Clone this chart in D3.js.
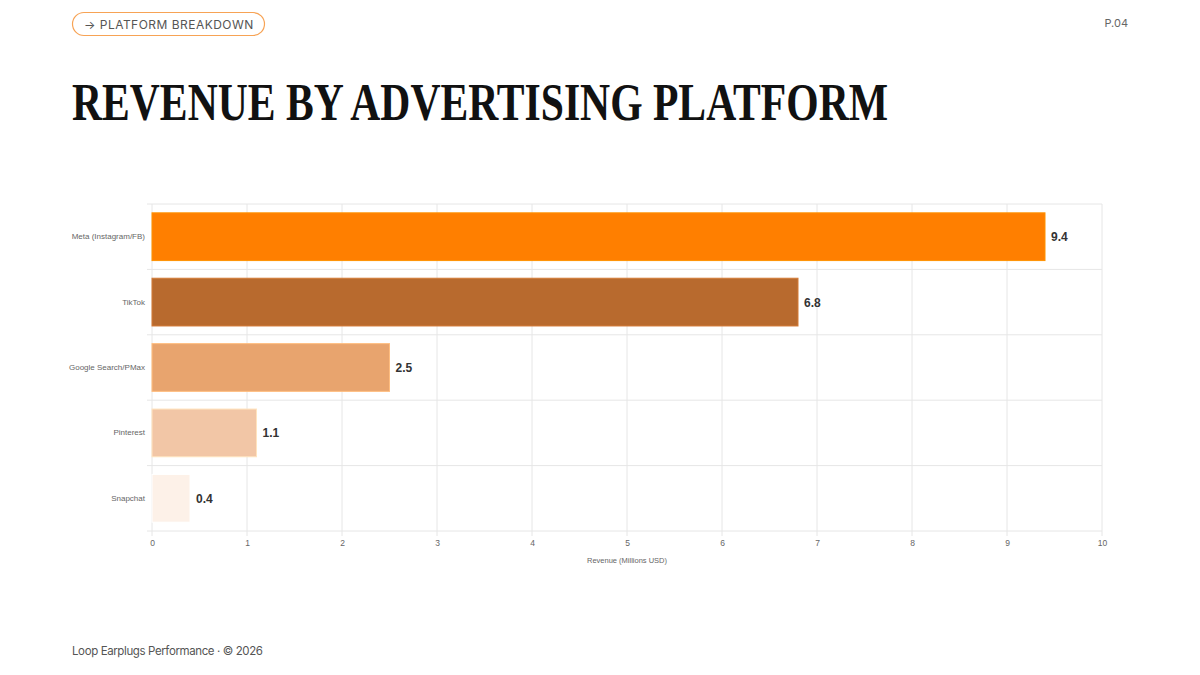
<!DOCTYPE html>
<html>
<head>
<meta charset="utf-8">
<script src="https://cdn.jsdelivr.net/npm/d3@7"></script>
<style>
  html, body { margin: 0; padding: 0; background: #fff; }
  svg { display: block; }
</style>
</head>
<body>
<div id="chart"></div>
<script>
  // platform revenue, millions USD
  var platforms = ['Meta (Instagram/FB)', 'TikTok', 'Google Search/PMax', 'Pinterest', 'Snapchat'];
  var revenue = [9.4, 6.8, 2.5, 1.1, 0.4];
  var barColors = ['#ff7f00', '#b86a2e', '#e8a46e', '#f2c6a6', '#fdf1e8'];
  var xTicks = [0, 1, 2, 3, 4, 5, 6, 7, 8, 9, 10];

  var width = 1200;
  var height = 675;
  var margin = {
    top: 204,
    right: 98,
    bottom: 144,
    left: 152
  };

  var svg = d3.select('#chart').append('svg')
      .attr('width', width)
      .attr('height', height);

  // header pill
  svg.append('rect')
      .attr('x', 72.5).attr('y', 12.5)
      .attr('width', 192).attr('height', 23)
      .attr('rx', 11.5)
      .attr('fill', 'none')
      .attr('stroke', '#f7a355')
      .attr('stroke-width', 1.2);
  svg.append('text')
      .attr('x', 84).attr('y', 28.5)
      .attr('font-family', 'Inter, sans-serif')
      .attr('font-size', 12)
      .attr('letter-spacing', 0.7)
      .attr('textLength', 170)
      .attr('fill', '#555')
      .text('\u2192 PLATFORM BREAKDOWN');

  svg.append('text')
      .attr('x', 1128).attr('y', 27)
      .attr('text-anchor', 'end')
      .attr('font-family', 'Inter, sans-serif')
      .attr('font-size', 11)
      .attr('fill', '#666')
      .text('P.04');

  svg.append('text')
      .attr('x', 72).attr('y', 120)
      .attr('font-family', '"Liberation Serif", serif')
      .attr('font-weight', 'bold')
      .attr('font-size', 53)
      .attr('textLength', 816)
      .attr('lengthAdjust', 'spacingAndGlyphs')
      .attr('fill', '#111')
      .text('REVENUE BY ADVERTISING PLATFORM');

  svg.append('text')
      .attr('x', 72).attr('y', 655)
      .attr('font-family', 'Inter, sans-serif')
      .attr('font-size', 11.5)
      .attr('textLength', 191)
      .attr('fill', '#555')
      .text('Loop Earplugs Performance \u00b7 \u00a9 2026');

  var xScale = d3.scaleLinear().domain([0, 10]).range([margin.left, width - margin.right]);
  var yScale = d3.scaleBand().domain(platforms)
      .range([margin.top, height - margin.bottom])
      .paddingInner(0.27).paddingOuter(0.135);

  var plotBottom = height - margin.bottom;
  var bandStep = yScale.step();
  var boundaries = d3.range(platforms.length + 1).map(function (i) {
    return margin.top + i * bandStep;
  });

  var grid = svg.append('g').attr('class', 'grid');
  grid.selectAll('line.v').data(xTicks).enter().append('line')
      .attr('class', 'v')
      .attr('x1', function (d) { return xScale(d); })
      .attr('x2', function (d) { return xScale(d); })
      .attr('y1', margin.top).attr('y2', plotBottom + 5)
      .attr('stroke', '#e6e6e6');
  grid.selectAll('line.h').data(boundaries).enter().append('line')
      .attr('class', 'h')
      .attr('x1', margin.left - 5).attr('x2', xScale(10))
      .attr('y1', function (d) { return d; })
      .attr('y2', function (d) { return d; })
      .attr('stroke', '#e6e6e6');

  var rows = platforms.map(function (p, i) {
    return { name: p, value: revenue[i], color: barColors[i] };
  });

  svg.selectAll('rect.bar').data(rows).enter().append('rect')
      .attr('class', 'bar')
      .attr('x', xScale(0))
      .attr('y', function (d) { return yScale(d.name); })
      .attr('width', function (d) { return xScale(d.value) - xScale(0); })
      .attr('height', yScale.bandwidth())
      .attr('fill', function (d) { return d.color; })
      .attr('stroke', function (d) { return d3.color(d.color).brighter(0.4); })
      .attr('stroke-width', 1);

  svg.selectAll('text.val').data(rows).enter().append('text')
      .attr('class', 'val')
      .attr('x', function (d) { return xScale(d.value) + 6; })
      .attr('y', function (d) { return yScale(d.name) + yScale.bandwidth() / 2 + 4.5; })
      .attr('font-family', '"Liberation Sans", Arial, sans-serif')
      .attr('font-weight', 'bold')
      .attr('font-size', 12)
      .attr('fill', '#333')
      .text(function (d) { return d3.format('.1f')(d.value); });

  var xAxis = d3.axisBottom(xScale).tickValues(xTicks).tickSize(0).tickPadding(9);
  var xAxisEl = svg.append('g')
      .attr('class', 'x-axis')
      .attr('transform', 'translate(0,' + plotBottom + ')')
      .call(xAxis);
  xAxisEl.select('.domain').remove();
  xAxisEl.selectAll('text')
      .attr('font-family', '"Liberation Sans", Arial, sans-serif')
      .attr('font-size', 8.5)
      .attr('fill', '#666');

  var yAxis = d3.axisLeft(yScale).tickSize(0).tickPadding(7);
  var yAxisEl = svg.append('g')
      .attr('class', 'y-axis')
      .attr('transform', 'translate(' + margin.left + ',0)')
      .call(yAxis);
  yAxisEl.select('.domain').remove();
  yAxisEl.selectAll('text')
      .attr('font-family', '"Liberation Sans", Arial, sans-serif')
      .attr('font-size', 8)
      .attr('fill', '#666');

  svg.append('text')
      .attr('x', (xScale(0) + xScale(10)) / 2)
      .attr('y', 563)
      .attr('text-anchor', 'middle')
      .attr('font-family', '"Liberation Sans", Arial, sans-serif')
      .attr('font-size', 7.5)
      .attr('fill', '#666')
      .text('Revenue (Millions USD)');
</script>
</body>
</html>
